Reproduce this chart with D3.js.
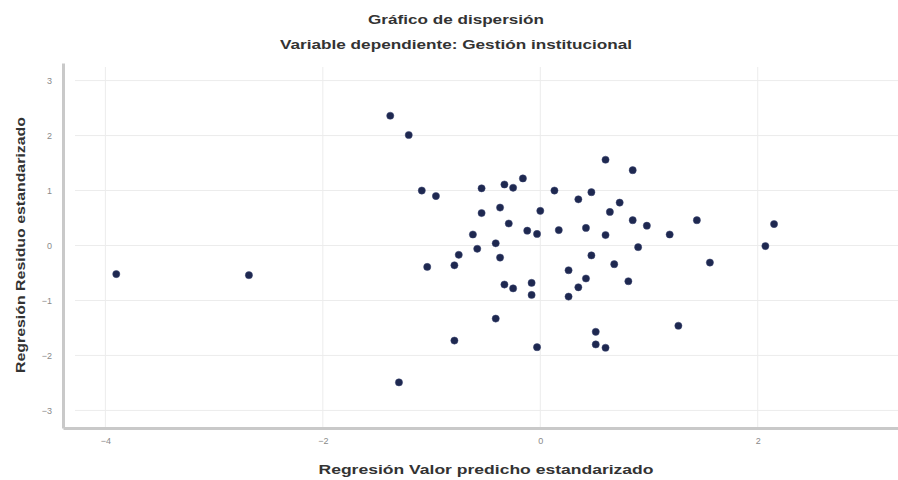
<!DOCTYPE html>
<html><head><meta charset="utf-8">
<script src="https://cdn.jsdelivr.net/npm/d3@7"></script>
<style>body{margin:0;background:#fff}svg{display:block}</style>
</head><body>
<svg id="c" width="898" height="480"></svg>
<script>
const titleText = "Gráfico de dispersión";
const subtitleText = "Variable dependiente: Gestión institucional";
const xLabel = "Regresión Valor predicho estandarizado";
const yLabel = "Regresión Residuo estandarizado";
const xTicks = [-4, -2, 0, 2];
const yTicks = [-3, -2, -1, 0, 1, 2, 3];
const predicted = [-3.90,-2.68,-1.38,-1.21,-1.09,-0.96,-0.54,-0.33,-0.25,-0.16,0.60,0.85,0.13,0.35,0.47,0.73,0.64,-0.54,-0.37,0.00,-0.29,0.85,0.98,1.44,1.19,-0.62,-0.12,-0.03,0.17,0.42,0.60,-0.41,-0.58,-0.75,-0.37,0.90,0.47,0.68,-1.04,-0.79,0.26,-0.33,-0.25,-0.08,-0.08,0.26,0.35,0.42,0.81,-0.41,-0.79,-0.03,0.51,0.51,0.60,1.27,-1.30,2.15,2.07,1.56];
const residual = [-0.52,-0.54,2.36,2.01,1.00,0.90,1.04,1.11,1.05,1.22,1.56,1.37,1.00,0.84,0.97,0.78,0.61,0.59,0.69,0.63,0.40,0.46,0.36,0.46,0.20,0.20,0.27,0.21,0.28,0.32,0.19,0.04,-0.06,-0.17,-0.22,-0.03,-0.18,-0.34,-0.39,-0.36,-0.45,-0.71,-0.78,-0.68,-0.90,-0.93,-0.76,-0.60,-0.65,-1.33,-1.73,-1.85,-1.57,-1.80,-1.86,-1.46,-2.49,0.39,-0.01,-0.31];

const svg = d3.select("#c");
const L = 63, R = 898, T = 63, B = 428;
const x = d3.scaleLinear().domain([-4.39, 3.29]).range([L, R]);
const y = d3.scaleLinear().domain([-3.32, 3.32]).range([B, T]);

// gridlines
const g = svg.append("g");
g.selectAll("line.h").data(yTicks).join("line")
  .attr("x1", L + 12).attr("x2", R).attr("y1", d => y(d)).attr("y2", d => y(d))
  .attr("stroke", "#ececec").attr("stroke-width", 1);
g.selectAll("line.v").data(xTicks).join("line")
  .attr("y1", T + 4).attr("y2", B).attr("x1", d => x(d)).attr("x2", d => x(d))
  .attr("stroke", "#ececec").attr("stroke-width", 1);

// axes
const xa = svg.append("g").attr("transform", `translate(0,${B})`)
  .call(d3.axisBottom(x).tickValues(xTicks).tickSize(0).tickPadding(10).tickFormat(d3.format("d")));
const ya = svg.append("g").attr("transform", `translate(${L},0)`)
  .call(d3.axisLeft(y).tickValues(yTicks).tickSize(0).tickPadding(11).tickFormat(d3.format("d")));
[xa, ya].forEach(a => {
  a.select(".domain").attr("stroke", "#c9c9c9").attr("stroke-width", 3);
  a.selectAll("text").attr("fill", "#8a8a8a").attr("font-family", "Liberation Sans, Arial, sans-serif").attr("font-size", 9);
});

// points
svg.append("g").selectAll("circle").data(predicted.map((p, i) => [p, residual[i]])).join("circle")
  .attr("cx", d => x(d[0])).attr("cy", d => y(d[1])).attr("r", 3.6)
  .attr("fill", "#1e2850").attr("stroke", "#3a4570").attr("stroke-width", 0.5);

// titles
const ff = "Liberation Sans, Arial, sans-serif";
function label(sel, txt, len) {
  return sel.append("text").attr("text-anchor", "middle").attr("font-family", ff)
    .attr("font-size", 13.5).attr("font-weight", "bold").attr("fill", "#333")
    .attr("textLength", len).attr("lengthAdjust", "spacingAndGlyphs").text(txt);
}
label(svg, titleText, 176).attr("x", 456).attr("y", 24);
label(svg, subtitleText, 352).attr("x", 456).attr("y", 49);
label(svg, xLabel, 335).attr("x", 486).attr("y", 474);
label(svg, yLabel, 256).attr("transform", "translate(25,245) rotate(-90)");
</script>
</body></html>
